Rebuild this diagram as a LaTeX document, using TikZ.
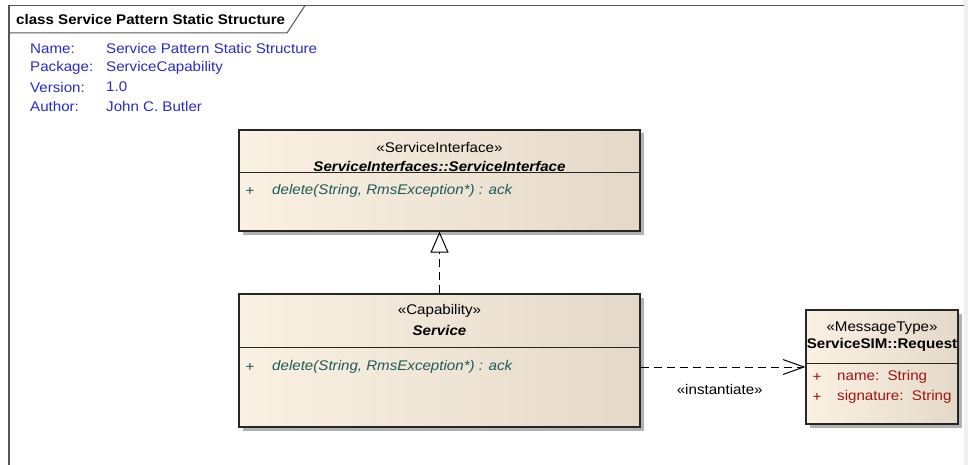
\documentclass[tikz,border=0pt]{standalone}
\usepackage{fontspec}
\setmainfont{Liberation Sans}[FakeStretch=1.08]
\usetikzlibrary{arrows.meta,shadows}
\definecolor{boxl}{HTML}{FBF1E3}
\definecolor{boxr}{HTML}{E4D9C9}
\definecolor{metablue}{HTML}{2A2AC8}
\definecolor{optext}{HTML}{1F5A5A}
\definecolor{attrtext}{HTML}{A01414}
\definecolor{framegray}{HTML}{555555}
\begin{document}
\begin{tikzpicture}[x=1pt,y=-1pt,
    font=\fontsize{14}{16}\selectfont,
    classbox/.style={draw=black!85, line width=1.2pt, left color=boxl, right color=boxr,
        drop shadow={shadow xshift=3.5pt, shadow yshift=-3.5pt, fill=black!30, opacity=1},
        inner sep=0pt},
    txt/.style={inner sep=0pt},
    meta/.style={txt, anchor=west, text=metablue},
    op/.style={txt, anchor=west, text=optext, font=\fontsize{14}{16}\selectfont\itshape},
    attr/.style={txt, anchor=west, text=attrtext}]
    \useasboundingbox (0,0) rectangle (968,465);
    \fill[black!6] (964,0) rectangle (968,465);
    % frame and title tab
    \draw[framegray, line width=1.5pt] (9,465) -- (9,5.5) -- (964,5.5);
    \draw[framegray, line width=1pt] (9,33) -- (287,33) -- (305,5.5);
    \node[txt, anchor=west, font=\fontsize{14}{16}\selectfont\bfseries] (title) at (16,19) {class Service Pattern Static Structure};
    % diagram details
    \node[meta] (k1) at (30,48.5) {Name:};
    \node[meta] (k2) at (30,67.5) {Package:};
    \node[meta] (k3) at (30,87) {Version:};
    \node[meta] (k4) at (30,106) {Author:};
    \node[meta] (v1) at (106,48.5) {Service Pattern Static Structure};
    \node[meta] (v2) at (106,67.5) {ServiceCapability};
    \node[meta] (v3) at (106,87) {1.0};
    \node[meta] (v4) at (106,106) {John C. Butler};

    % ServiceInterface
    \node[classbox, minimum width=401pt, minimum height=101pt] (iface) at (439.5,180.5) {};
    \draw[black!85, line width=1pt] (239,173) -- (640,173);
    \node[txt] (ifst) at (439.5,147) {«ServiceInterface»};
    \node[txt, font=\fontsize{14}{16}\selectfont\bfseries\itshape] (ifname) at (439.5,166) {ServiceInterfaces::ServiceInterface};
    \node[txt, text=optext] (ifplus) at (250,191) {+};
    \node[op] (ifop) at (272,191) {delete(String, RmsException*) : ack};

    % Service
    \node[classbox, minimum width=401pt, minimum height=133pt] (service) at (439.5,360.5) {};
    \draw[black!85, line width=1pt] (239,347) -- (640,347);
    \node[txt] (svst) at (439.5,311) {«Capability»};
    \node[txt, font=\fontsize{14}{16}\selectfont\bfseries\itshape] (svname) at (439.5,330) {Service};
    \node[txt, text=optext] (svplus) at (250,367) {+};
    \node[op] (svop) at (272,367) {delete(String, RmsException*) : ack};

    % Request
    \node[classbox, minimum width=152pt, minimum height=114pt] (request) at (882,367) {};
    \draw[black!85, line width=1pt] (806,363) -- (958,363);
    \node[txt] (rqst) at (882,328) {«MessageType»};
    \node[txt, font=\fontsize{14}{16}\selectfont\bfseries] (rqname) at (882,345) {ServiceSIM::Request};
    \node[txt, text=attrtext] (rqplus1) at (817,377) {+};
    \node[attr] (rqa1) at (837,377) {name:\ \ String};
    \node[txt, text=attrtext] (rqplus2) at (817,397) {+};
    \node[attr] (rqa2) at (837,397) {signature:\ \ String};

    % realization and dependency
    \draw[line width=1pt, dash pattern=on 8pt off 5pt,
        -{Triangle[width=18pt, length=21pt, fill=white, line width=1pt]}] (service.north) -- (iface.south);
    \draw[line width=1pt, dash pattern=on 8pt off 5pt,
        -{Straight Barb[width=15pt, length=21pt, line width=1pt]}] (service.east |- request.west) -- (request.west)
        node[pos=0.48, below=17pt, txt] (inst) {«instantiate»};
\end{tikzpicture}
\end{document}
